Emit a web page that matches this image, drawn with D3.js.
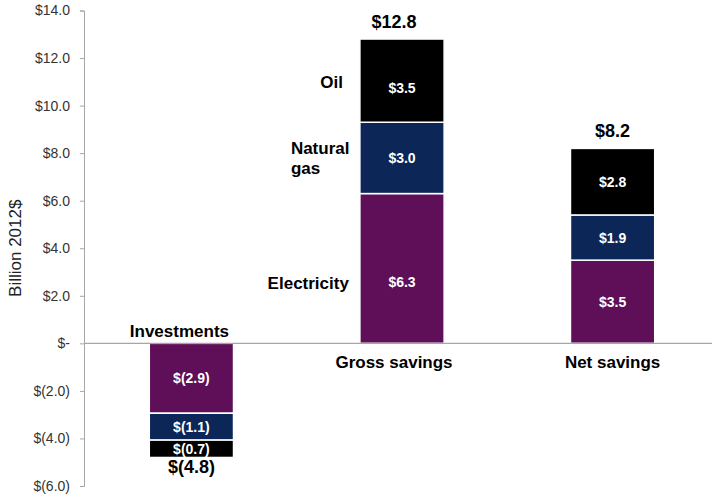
<!DOCTYPE html>
<html>
<head>
<meta charset="utf-8">
<script src="https://cdn.jsdelivr.net/npm/d3@7"></script>
<style>
  html, body { margin: 0; padding: 0; background: #fff; }
  svg { display: block; font-family: "Liberation Sans", Arial, sans-serif; }
</style>
</head>
<body>
<svg id="chart" width="712" height="497"></svg>
<script>
// Categories along the x axis
const categories = ["Investments", "Gross savings", "Net savings"];
// Stack order, bottom (nearest zero) to top
const segments = ["Electricity", "Natural gas", "Oil"];
// Values in billion 2012$ per category, one array per segment
const electricity = [-2.94, 6.3, 3.5];
const naturalGas  = [-1.13, 3.0, 1.9];
const oil         = [-0.73, 3.5, 2.8];
// Y axis ticks
const yTicks = [14, 12, 10, 8, 6, 4, 2, 0, -2, -4, -6];

const colors = { "Electricity": "#5e0f58", "Natural gas": "#0c2757", "Oil": "#000000" };
const seriesValues = { "Electricity": electricity, "Natural gas": naturalGas, "Oil": oil };

const svg = d3.select("#chart");
const axisX = 84;

const y = d3.scaleLinear().domain([-6, 14]).range([486, 10.5]);
const x = d3.scaleBand().domain(categories).range([axisX, axisX + 636])
  .paddingInner(0.6).paddingOuter(0.31);

const fmt = v => {
  const s = Math.abs(v).toFixed(1);
  return v < 0 ? "$(" + s + ")" : "$" + s;
};
const tickFmt = v => v === 0 ? "$-" : fmt(v);

// Y axis
const yAxis = d3.axisLeft(y).tickValues(yTicks).tickFormat(tickFmt).tickSize(4).tickPadding(10);
const gy = svg.append("g").attr("transform", `translate(${axisX},0)`).call(yAxis);
gy.select(".domain").attr("stroke", "#a6a6a6");
gy.selectAll(".tick line").attr("stroke", "#a6a6a6");
gy.selectAll(".tick text").attr("fill", "#333").attr("font-size", 14);

// Axis title
svg.append("text")
  .attr("transform", `translate(21,${y(4)}) rotate(-90)`)
  .attr("text-anchor", "middle")
  .attr("font-size", 17)
  .attr("fill", "#222")
  .text("Billion 2012$");

// Build stacked rows
const rows = categories.map((c, i) => {
  let base = 0;
  const parts = segments.map(s => {
    const v = seriesValues[s][i];
    const p = { cat: c, seg: s, v: v, y0: base, y1: base + v };
    base += v;
    return p;
  });
  return { cat: c, parts: parts, total: base };
});

// In the gross savings bar, the value labels line up with the segment names
const grossLabelShift = { "Electricity": 14, "Natural gas": 0, "Oil": 7 };

const bars = svg.append("g");
rows.forEach((r, i) => {
  const cx = x(r.cat) + x.bandwidth() / 2;
  r.parts.forEach(p => {
    const top = y(Math.max(p.y0, p.y1));
    const bottom = y(Math.min(p.y0, p.y1));
    bars.append("rect")
      .attr("x", x(r.cat))
      .attr("y", top)
      .attr("width", x.bandwidth())
      .attr("height", bottom - top)
      .attr("fill", colors[p.seg])
      .attr("stroke", "#fff")
      .attr("stroke-width", 1.5);
    const shift = i === 1 ? grossLabelShift[p.seg] : 0;
    bars.append("text")
      .attr("x", cx)
      .attr("y", (top + bottom) / 2 + shift)
      .attr("dy", "0.36em")
      .attr("text-anchor", "middle")
      .attr("font-size", 14)
      .attr("font-weight", "bold")
      .attr("fill", "#fff")
      .text(fmt(p.v));
  });
  // Total label
  const tot = Math.round(r.total * 10) / 10;
  svg.append("text")
    .attr("x", cx - (i === 1 ? 8 : 0))
    .attr("y", r.total >= 0 ? y(r.total) - 11 : y(r.total) + 16)
    .attr("text-anchor", "middle")
    .attr("font-size", 18)
    .attr("font-weight", "bold")
    .attr("fill", "#000")
    .text(fmt(tot));
});

// Zero baseline
svg.append("line")
  .attr("x1", axisX).attr("x2", 712)
  .attr("y1", y(0)).attr("y2", y(0))
  .attr("stroke", "#a6a6a6").attr("stroke-width", 1.2);

// Category labels: above the baseline for negative bars, below for positive
const catShift = [-12, -8, 0];
rows.forEach((r, i) => {
  svg.append("text")
    .attr("x", x(r.cat) + x.bandwidth() / 2 + catShift[i])
    .attr("y", r.total < 0 ? y(0) - 6 : y(0) + 25)
    .attr("text-anchor", "middle")
    .attr("font-size", 17)
    .attr("font-weight", "bold")
    .attr("fill", "#000")
    .text(r.cat);
});

// Segment names beside the gross savings bar
const gross = rows[1];
const bx = x(gross.cat);
const segLabel = {
  "Electricity": { lines: ["Electricity"], anchor: "end", dx: -11, dy: 14 },
  "Natural gas": { lines: ["Natural", "gas"], anchor: "start", dx: -69, dy: 0 },
  "Oil":         { lines: ["Oil"], anchor: "end", dx: -17, dy: 1 }
};
gross.parts.forEach(p => {
  const cfg = segLabel[p.seg];
  const midY = (y(p.y0) + y(p.y1)) / 2 + cfg.dy;
  const t = svg.append("text")
    .attr("text-anchor", cfg.anchor)
    .attr("font-size", 17)
    .attr("font-weight", "bold")
    .attr("fill", "#000");
  cfg.lines.forEach((ln, k) => {
    t.append("tspan")
      .attr("x", bx + cfg.dx)
      .attr("y", midY + (k - (cfg.lines.length - 1) / 2) * 20)
      .attr("dy", "0.36em")
      .text(ln);
  });
});
</script>
</body>
</html>
